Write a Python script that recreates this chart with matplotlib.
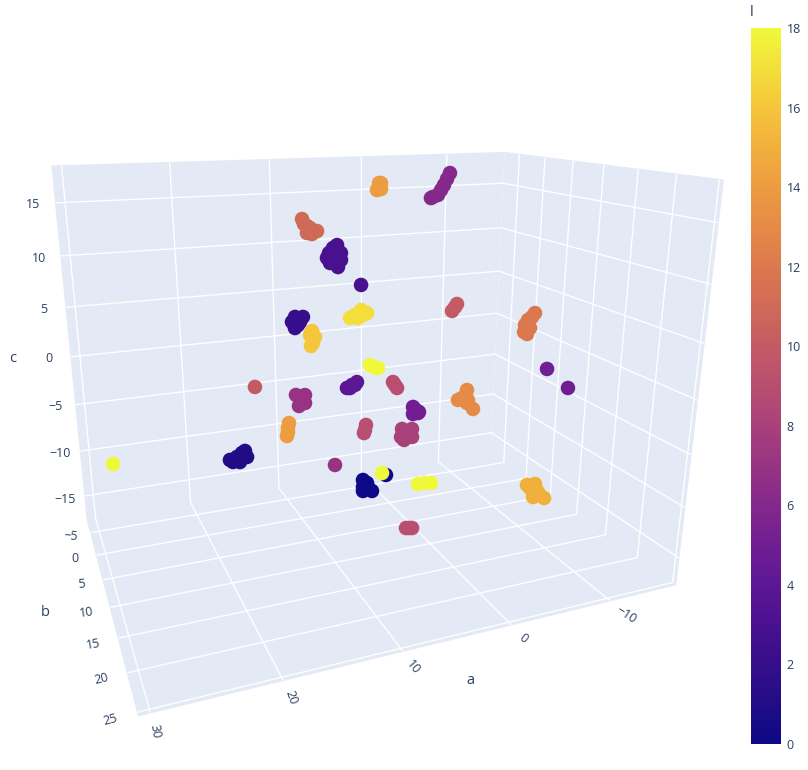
import numpy as np
import matplotlib
matplotlib.use("Agg")
import matplotlib.pyplot as plt
from matplotlib.cm import ScalarMappable
from matplotlib.colors import LinearSegmentedColormap, Normalize

# one l value, one b value and a point count for each blob in the picture
blob_l = [6, 14, 11, 3, 3, 17, 2, 16, 10, 12, 5, 18, 10, 1, 18, 4, 9, 7, 5, 14, 9, 8, 13, 7, 0, 0, 18, 18, 15, 9]
blob_b = [-3.2, -2.5, 12.0, 10.3, 18.7, 8.6, 5.2, 15.3, 6.9, 13.4, 14.9, 2.4, 8.6, 6.9, 5.2,
          10.3, 3.5, 12.0, 6.9, 8.6, 8.6, 10.3, 5.2, 10.3, 10.4, 10.3, 13.0, 12.0, 15.6, 16.7]
blob_n = [7, 5, 7, 10, 1, 6, 6, 6, 3, 7, 2, 1, 1, 7, 3, 5, 3, 5, 5, 4, 3, 6, 7, 1, 6, 1, 1, 3, 7, 3]

a_vals = [-7.87, -7.55, -7.22, -6.89, -6.55, -5.98, -5.75, 0.18, 0.5, 0.61, 0.17, 0.39, 13.33, 12.92,
          12.5, 12.06, 12.66, 12.93, 13.17, 9.69, 10.06, 10.42, 9.34, 9.88, 10.61, 10.34, 9.62, 9.89,
          9.34, 10.89, 7.87, 6.81, 6.23, 7.1, 7.39, 6.62, 12.23, 11.93, 11.17, 11.96, 11.46, 11.66,
          13.76, 13.52, 13.69, 13.87, 13.77, 13.94, -3.78, -3.27, -3.58, -8.35, -8.06, -7.65, -7.36,
          -7.3, -7.63, -7.91, -9.02, -11.46, 28.8, 16.84, 18.97, 18.31, 17.54, 17.37, 18.05, 17.83,
          18.7, 4.51, 4.09, 3.67, 8.85, 8.37, 7.89, 8.56, 8.08, 1.31, 1.09, 0.86, 14.18, 13.37, 13.93,
          13.38, 13.74, 0.67, 0.02, 0.66, 0.12, 0.35, 13.81, 13.92, 14.03, 13.93, 6.31, 6.41, 6.51,
          3.38, 2.36, 3.47, 2.34, 3.16, 2.86, -6.15, -5.16, -6.31, -6.93, -5.95, -6.21, -5.61, 10.06,
          7.34, 7.34, 7.34, 6.43, 6.83, 6.94, 4.97, 6.55, 2.44, 1.72, 1.09, -7.15, -8.03, -7.9, -9.14,
          -8.42, -7.5, -8.22, 5.81, 5.22, 5.52]
c_vals = [16.84, 16.25, 15.65, 15.15, 14.66, 14.48, 14.38, 16.19, 15.62, 15.52, 15.6, 16.2, 15.16, 14.58,
          13.9, 14.12, 14.4, 14.01, 14.75, 12.56, 12.33, 11.93, 11.86, 11.72, 11.52, 11.07, 10.67, 11.12,
          11.26, 10.86, 5.64, 6.27, 5.95, 5.56, 5.87, 5.8, 4.89, 5.33, 5.26, 4.29, 4.81, 4.55, 6.66, 6.14,
          5.66, 5.42, 6.08, 6.35, 5.53, 4.89, 5.25, 5.69, 5.35, 5.1, 4.66, 4.01, 3.79, 4.33, 0.71, -1.43,
          -7.58, 0.26, -6.98, -6.79, -6.32, -6.94, -7.33, -6.48, -7.22, -0.1, -0.35, -0.5, -0.31, -0.09,
          0.13, -0.35, -0.12, -2.72, -3.06, -3.4, 0.25, 0.14, -0.78, -0.58, -0.26, -4.32, -4.93, -5.05,
          -5.02, -4.68, -3.54, -4.0, -4.76, -4.39, -4.79, -5.28, -5.57, -5.01, -5.16, -5.8, -5.96, -6.14,
          -5.49, -3.97, -4.91, -5.06, -6.12, -4.69, -5.37, -4.76, -7.56, -9.47, -10.18, -10.58, -10.74,
          -10.26, -9.84, -9.4, -7.84, -10.04, -10.06, -10.16, -10.26, -10.31, -11.63, -11.95, -11.2,
          -10.63, -11.48, -11.72, -11.83, -11.77]

b_vals = np.repeat(blob_b, blob_n)
l_vals = np.repeat(blob_l, blob_n)

a_ticks = [-10, 0, 10, 20, 30]
b_ticks = [-5, 0, 5, 10, 15, 20, 25]
c_ticks = [-15, -10, -5, 0, 5, 10, 15]
l_ticks = list(range(0, 19, 2))

bar_colors = ["#0d0887", "#220c86", "#360e8b", "#4a1190", "#5c1795", "#701e92", "#84288c",
              "#983383", "#a8407a", "#b84e70", "#c45a65", "#d06a58", "#dc784e", "#e68a47",
              "#ec9b41", "#f1af3c", "#f5c53c", "#f3de3a", "#f0f83a"]

W, H = 808, 770
INK = "#2a3f5f"
PANE = "#E4EAF5"
BOX = 729.23  # side of the square 3d axes, px
BOX_X, BOX_Y = 351.08, 383.32  # its centre, px from top left

plt.rcParams["font.family"] = ["Open Sans", "DejaVu Sans"]
plt.rcParams["grid.color"] = "white"
plt.rcParams["grid.linewidth"] = 0.95

fig = plt.figure(figsize=(W / 100, H / 100), dpi=100)
ax = fig.add_subplot(projection="3d")
ax.set_position([(BOX_X - BOX / 2) / W, 1 - (BOX_Y + BOX / 2) / H, BOX / W, BOX / H])
ax.view_init(elev=17.5017, azim=67.9516, roll=0)
ax.set_proj_type("persp", focal_length=0.23129)
ax.set_box_aspect((1, 0.6973, 0.7510))
ax.set_xlim(-17.176, 30.8397)
ax.set_ylim(-8.1501, 25.4147)
ax.set_zlim(-17.7017, 18.3521)

cmap = LinearSegmentedColormap.from_list("bar", bar_colors)
norm = Normalize(0, 18)
ax.scatter(a_vals, b_vals, c_vals, c=l_vals, cmap=cmap, norm=norm, s=110, depthshade=False, linewidths=0)

for axis, ticks in ((ax.xaxis, a_ticks), (ax.yaxis, b_ticks), (ax.zaxis, c_ticks)):
    axis.set_ticks(ticks)
    axis.set_ticklabels([])
    axis.set_pane_color(PANE)
    axis.pane.set_edgecolor(PANE)
    axis.line.set_color((1, 1, 1, 0))
    axis._axinfo["tick"]["inward_factor"] = 0
    axis._axinfo["tick"]["outward_factor"] = 0
ax.patch.set_alpha(0)


def label(u, v, s, rot=0, size=9):
    fig.text(u / W, 1 - v / H, s, rotation=rot, ha="center", va="center", color=INK,
             fontsize=size, rotation_mode="anchor")


# the 3d tick labels land elsewhere, so they are placed by hand
for u, v, s in [(33, 204, "15"), (39, 258, "10"), (44, 309.5, "5"), (49, 359, "0"),
                (55, 407, "\u22125"), (60, 453.5, "\u221210"), (65, 499, "\u221215")]:
    label(u, v, s)
for u, v, s, rot in [(71, 536, "\u22125", -5), (75, 559, "0", 0), (81, 584, "5", 5), (86, 613, "10", 8),
                     (93, 644, "15", 10), (102, 679, "20", 14), (110, 720, "25", 15)]:
    label(u, v, s, rot)
for u, v, s, rot in [(155, 731, "30", -80), (291, 697, "20", -70), (413, 667, "10", -50),
                     (523, 638, "0", -38), (626, 615, "\u221210", -33)]:
    label(u, v, s, rot)
label(13, 359, "c", size=10.5)
label(45, 613, "b", size=10.5)
label(470, 681, "a", size=10.5)
label(752, 12, "l", size=10.5)

cax = fig.add_axes([751 / W, 1 - 744 / H, 30 / W, 716 / H])
cb = fig.colorbar(ScalarMappable(norm=norm, cmap=cmap), cax=cax)
cb.outline.set_visible(False)
cb.set_ticks(l_ticks)
cax.tick_params(length=0, pad=4, labelcolor=INK, labelsize=9)

fig.savefig("out.png", dpi=100)
